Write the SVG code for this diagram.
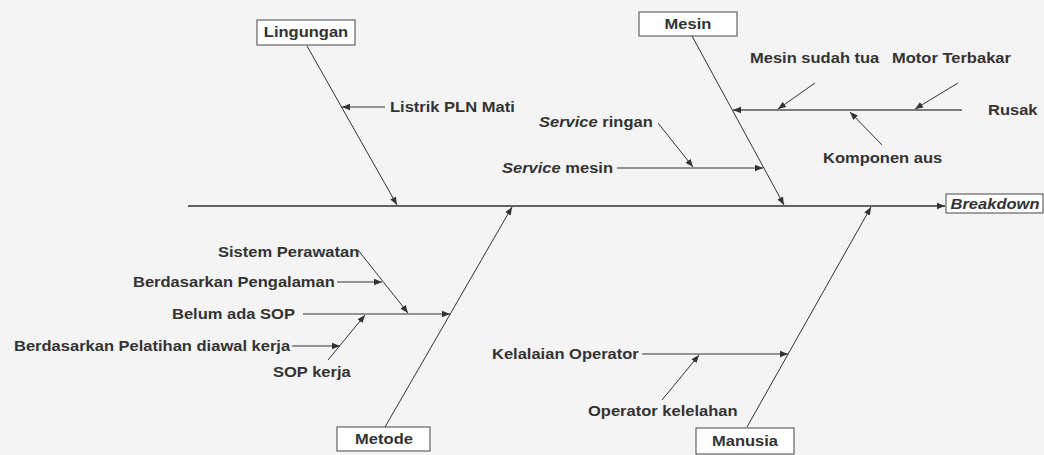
<svg xmlns="http://www.w3.org/2000/svg" width="1044" height="455" viewBox="0 0 1044 455">
  <style>
    .lbl { font-family: "Liberation Sans", Arial, sans-serif; font-size: 14px; font-weight: bold; fill: #333; }
    .it { font-style: italic; }
    .box { fill: #ffffff; stroke: #444; stroke-width: 1; }
    .ln { stroke: #333; stroke-width: 1; fill: none; }
    .arr { marker-end: url(#ah); }
    .spine { stroke: #333; stroke-width: 1.5; fill: none; }
  </style>
  <defs>
    <marker id="ah" viewBox="0 0 10 10" refX="10" refY="5" markerWidth="8" markerHeight="8" markerUnits="userSpaceOnUse" orient="auto">
      <path d="M0,1 L10,5 L0,9 Z" fill="#333"/>
    </marker>
  </defs>

  <rect x="0" y="0" width="1044" height="455" fill="#f4f4f4"/>

  <!-- connectors: spine, main bones and sub-causes -->
  <g id="connectors">
    <line class="spine arr" x1="188" y1="206" x2="945" y2="206"/>
    <!-- main bones -->
    <line class="ln arr" x1="307" y1="46" x2="397" y2="205"/>
    <line class="ln arr" x1="692" y1="36" x2="784" y2="205"/>
    <line class="ln arr" x1="385" y1="427" x2="512" y2="207"/>
    <line class="ln arr" x1="747" y1="427" x2="871" y2="207"/>
    <!-- Lingungan -->
    <line class="ln arr" x1="385" y1="107" x2="342" y2="107"/>
    <!-- Mesin -->
    <line class="ln arr" x1="962" y1="110" x2="733" y2="110" style="stroke:#555;stroke-width:1.5"/>
    <line class="ln arr" x1="815" y1="83" x2="778" y2="109"/>
    <line class="ln arr" x1="958" y1="83" x2="915" y2="109"/>
    <line class="ln arr" x1="882" y1="145" x2="850" y2="112"/>
    <line class="ln arr" x1="658" y1="123" x2="693" y2="167"/>
    <line class="ln arr" x1="617" y1="168" x2="763" y2="168"/>
    <!-- Metode -->
    <line class="ln arr" x1="303" y1="314" x2="450" y2="314"/>
    <line class="ln arr" x1="358" y1="250" x2="408" y2="313"/>
    <line class="ln arr" x1="337" y1="282" x2="382" y2="282"/>
    <line class="ln arr" x1="292" y1="346" x2="340" y2="346"/>
    <line class="ln arr" x1="328" y1="360" x2="365" y2="315"/>
    <!-- Manusia -->
    <line class="ln arr" x1="642" y1="354" x2="788" y2="354"/>
    <line class="ln arr" x1="662" y1="400" x2="699" y2="355"/>
  </g>

  <!-- category heads -->
  <g id="lingungan">
    <rect class="box" x="257" y="20" width="98" height="25"/>
    <text class="lbl" text-anchor="middle" transform="translate(306,37) scale(1.18,1)">Lingungan</text>
  </g>
  <g id="mesin">
    <rect class="box" x="639" y="12" width="98" height="24"/>
    <text class="lbl" text-anchor="middle" transform="translate(688,29) scale(1.18,1)">Mesin</text>
  </g>
  <g id="metode">
    <rect class="box" x="337" y="427" width="93" height="24"/>
    <text class="lbl" text-anchor="middle" transform="translate(384,444) scale(1.18,1)">Metode</text>
  </g>
  <g id="manusia">
    <rect class="box" x="696" y="428" width="98" height="26"/>
    <text class="lbl" text-anchor="middle" transform="translate(745,446) scale(1.18,1)">Manusia</text>
  </g>
  <g id="breakdown">
    <rect class="box" x="946" y="194" width="97" height="19"/>
    <text class="lbl it" text-anchor="middle" transform="translate(995,209) scale(1.18,1)">Breakdown</text>
  </g>

  <!-- cause labels -->
  <g id="listrik-pln-mati">
    <text class="lbl" transform="translate(390,112) scale(1.18,1)">Listrik PLN Mati</text>
  </g>
  <g id="mesin-sudah-tua">
    <text class="lbl" transform="translate(750,63) scale(1.18,1)">Mesin sudah tua</text>
  </g>
  <g id="motor-terbakar">
    <text class="lbl" transform="translate(892,63) scale(1.18,1)">Motor Terbakar</text>
  </g>
  <g id="rusak">
    <text class="lbl" transform="translate(988,115) scale(1.18,1)">Rusak</text>
  </g>
  <g id="komponen-aus">
    <text class="lbl" transform="translate(823,163) scale(1.18,1)">Komponen aus</text>
  </g>
  <g id="service-ringan">
    <text class="lbl" transform="translate(539,127) scale(1.18,1)"><tspan class="it">Service</tspan> ringan</text>
  </g>
  <g id="service-mesin">
    <text class="lbl" transform="translate(502,173) scale(1.18,1)"><tspan class="it">Service</tspan> mesin</text>
  </g>
  <g id="sistem-perawatan">
    <text class="lbl" transform="translate(218,257) scale(1.18,1)">Sistem Perawatan</text>
  </g>
  <g id="berdasarkan-pengalaman">
    <text class="lbl" transform="translate(133,287) scale(1.18,1)">Berdasarkan Pengalaman</text>
  </g>
  <g id="belum-ada-sop">
    <text class="lbl" transform="translate(172,319) scale(1.18,1)">Belum ada SOP</text>
  </g>
  <g id="berdasarkan-pelatihan">
    <text class="lbl" transform="translate(14,351) scale(1.18,1)">Berdasarkan Pelatihan diawal kerja</text>
  </g>
  <g id="sop-kerja">
    <text class="lbl" transform="translate(273,377) scale(1.18,1)">SOP kerja</text>
  </g>
  <g id="kelalaian-operator">
    <text class="lbl" transform="translate(492,359) scale(1.18,1)">Kelalaian Operator</text>
  </g>
  <g id="operator-kelelahan">
    <text class="lbl" transform="translate(588,416) scale(1.18,1)">Operator kelelahan</text>
  </g>
</svg>
